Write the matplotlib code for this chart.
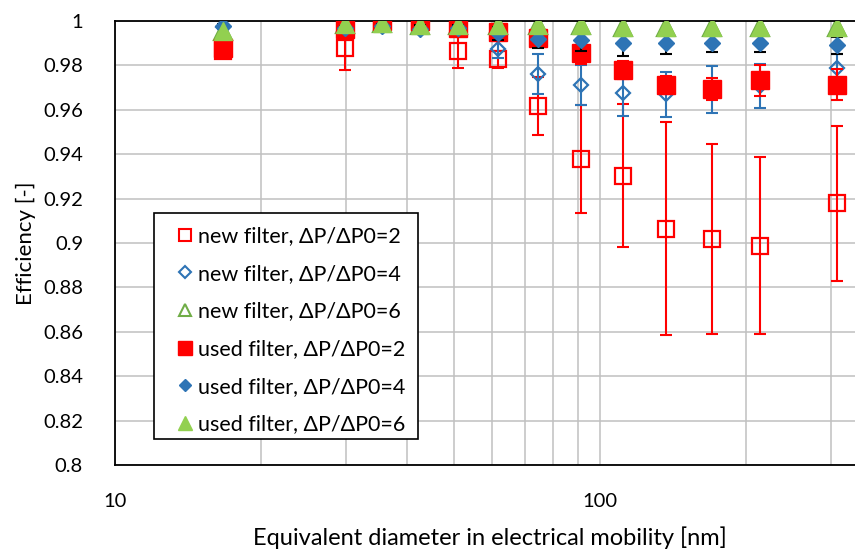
import matplotlib
matplotlib.use("Agg")
import matplotlib.pyplot as plt
from matplotlib.lines import Line2D
from matplotlib.patches import Rectangle
from matplotlib.ticker import FixedLocator, FuncFormatter, NullFormatter

plt.rcParams["font.family"] = ["Lato", "DejaVu Sans"]

RED, BLUE, GREEN, DKGREEN = "#FF0000", "#2E74B5", "#92D050", "#70AD47"

# particle size classes [nm]
diam = [16.7, 29.8, 35.5, 42.5, 50.9, 61.6, 74.5, 91.4, 111.5, 136.8, 170.2, 213.8, 308.1]

new2 = [0.9865, 0.988, 0.999, 0.999, 0.9865, 0.9827, 0.9617, 0.9378, 0.9304, 0.9064, 0.9018, 0.8988, 0.9178]
new2_err = [0.002, 0.010, 0.001, 0.001, 0.0075, 0.004, 0.013, 0.0243, 0.032, 0.048, 0.0428, 0.040, 0.035]
new4 = [0.9975, 0.9968, 0.9977, 0.9964, 0.997, 0.9874, 0.9763, 0.9712, 0.9674, 0.967, 0.969, 0.9708, 0.979]
new4_err = [0.001, 0.001, 0.001, 0.001, 0.001, 0.004, 0.009, 0.009, 0.0102, 0.0102, 0.0106, 0.0098, 0.006]
new6 = [0.9955, 0.9985, 0.999, 0.998, 0.998, 0.998, 0.998, 0.998, 0.9975, 0.9975, 0.9975, 0.9975, 0.9975]
used2 = [0.988, 0.9962, 0.9999, 1.0, 0.997, 0.9951, 0.9922, 0.9856, 0.9779, 0.9712, 0.9695, 0.9732, 0.9712]
used2_err = [0.001, 0.002, 0.001, 0.001, 0.002, 0.003, 0.004, 0.005, 0.004, 0.004, 0.005, 0.007, 0.007]
used4 = [0.9977, 0.9968, 0.9977, 0.9964, 0.997, 0.9945, 0.992, 0.9914, 0.990, 0.990, 0.990, 0.990, 0.989]
used4_err = [0.001, 0.001, 0.001, 0.002, 0.001, 0.003, 0.004, 0.005, 0.0056, 0.005, 0.004, 0.004, 0.004]
used6 = [0.9955, 0.9986, 0.999, 0.998, 0.998, 0.998, 0.998, 0.998, 0.9975, 0.9975, 0.9975, 0.9975, 0.9975]

labels = ["new filter, ΔP/ΔP0=2", "new filter, ΔP/ΔP0=4", "new filter, ΔP/ΔP0=6",
          "used filter, ΔP/ΔP0=2", "used filter, ΔP/ΔP0=4", "used filter, ΔP/ΔP0=6"]

fig = plt.figure(figsize=(8.55, 5.55), dpi=100)
ax = fig.add_axes([115 / 855, 90 / 555, 740 / 855, 444 / 555])
ax.set_xscale("log")
ax.set_xlim(10, 335.7)
ax.set_ylim(0.8, 1.0)

ax.xaxis.set_major_locator(FixedLocator([10, 100]))
ax.xaxis.set_minor_locator(FixedLocator([20, 30, 40, 50, 60, 70, 80, 90, 200, 300]))
ax.xaxis.set_major_formatter(FuncFormatter(lambda v, p: "%g" % v))
ax.xaxis.set_minor_formatter(NullFormatter())
ax.set_yticks([0.8 + 0.02 * i for i in range(11)])
ax.yaxis.set_major_formatter(FuncFormatter(lambda v, p: "%g" % round(v, 2)))
ax.grid(which="both", axis="x", color="#C0C0C0", lw=1.1)
ax.grid(which="major", axis="y", color="#C0C0C0", lw=1.1)
ax.set_axisbelow(True)
ax.tick_params(which="both", length=0, labelsize=14.5)
ax.tick_params(axis="y", pad=23)
ax.tick_params(axis="x", pad=20)
ax.spines["right"].set_visible(False)
for s in ("top", "left", "bottom"):
    ax.spines[s].set_linewidth(1.3)

eb = dict(fmt="none", elinewidth=1.5, capsize=4.5, capthick=1.5)
ax.errorbar(diam, new2, yerr=new2_err, ecolor=RED, zorder=2, **eb)
ax.plot(diam, new2, "s", ms=12, mfc="none", mec=RED, mew=1.6, zorder=2.1)
ax.errorbar(diam, new4, yerr=new4_err, ecolor=BLUE, zorder=2.2, **eb)
ax.plot(diam, new4, "D", ms=7.5, mfc="none", mec=BLUE, mew=1.6, zorder=2.3)
ax.plot(diam, new6, "^", ms=13, mfc="none", mec=DKGREEN, mew=1.6, zorder=2.4)
ax.errorbar(diam, used2, yerr=used2_err, ecolor=RED, zorder=2.5, **eb)
ax.plot(diam, used2, "s", ms=13, color=RED, zorder=2.6)
ax.errorbar(diam, used4, yerr=used4_err, ecolor="black", zorder=2.7, **eb)
ax.plot(diam, used4, "D", ms=8, color=BLUE, zorder=2.8)
ax.plot(diam, used6, "^", ms=13.5, color=GREEN, zorder=2.9)

ax.set_ylabel("Efficiency [-]", fontsize=16)
ax.yaxis.set_label_coords(-0.107, 0.5)
ax.set_xlabel("Equivalent diameter in electrical mobility [nm]", fontsize=17)
ax.xaxis.set_label_coords(0.507, -0.138)

handles = [
    Line2D([], [], ls="none", marker="s", ms=8.5, mfc="none", mec=RED, mew=1.5),
    Line2D([], [], ls="none", marker="D", ms=6, mfc="none", mec=BLUE, mew=1.5),
    Line2D([], [], ls="none", marker="^", ms=9, mfc="none", mec=DKGREEN, mew=1.5),
    Line2D([], [], ls="none", marker="s", ms=9.5, color=RED),
    Line2D([], [], ls="none", marker="D", ms=6.5, color=BLUE),
    Line2D([], [], ls="none", marker="^", ms=10, color=GREEN),
]
ax.add_patch(Rectangle((0.0527, 0.0586), 0.3568, 0.509, transform=ax.transAxes,
                       facecolor="white", edgecolor="black", lw=1.2, zorder=4.5))
ax.legend(handles, labels, loc="upper left", bbox_to_anchor=(0.085, 0.538),
          frameon=False, fontsize=15.5, handlelength=0.65, handletextpad=0.3,
          labelspacing=0.82, borderpad=0, borderaxespad=0)

fig.savefig("out.png", dpi=100)
